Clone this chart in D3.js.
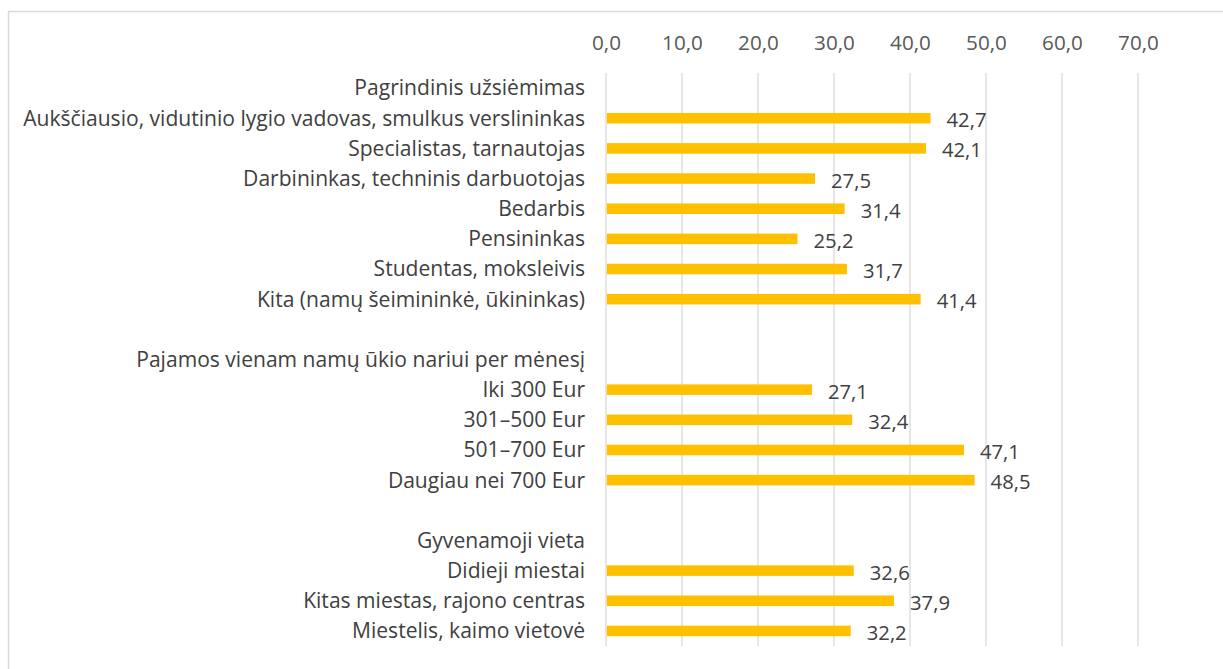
<!DOCTYPE html>
<html>
<head>
<meta charset="utf-8">
<script src="https://cdn.jsdelivr.net/npm/d3@7"></script>
<style>
  html, body { margin: 0; padding: 0; background: #ffffff; }
  svg { display: block; }
</style>
</head>
<body>
<svg id="chart" width="1223" height="669"></svg>
<script>
const categories = [
  "Pagrindinis užsiėmimas",
  "Aukščiausio, vidutinio lygio vadovas, smulkus verslininkas",
  "Specialistas, tarnautojas",
  "Darbininkas, techninis darbuotojas",
  "Bedarbis",
  "Pensininkas",
  "Studentas, moksleivis",
  "Kita (namų šeimininkė, ūkininkas)",
  "",
  "Pajamos vienam namų ūkio nariui per mėnesį",
  "Iki 300 Eur",
  "301–500 Eur",
  "501–700 Eur",
  "Daugiau nei 700 Eur",
  "",
  "Gyvenamoji vieta",
  "Didieji miestai",
  "Kitas miestas, rajono centras",
  "Miestelis, kaimo vietovė"
];
const values = [null, 42.7, 42.1, 27.5, 31.4, 25.2, 31.7, 41.4, null, null, 27.1, 32.4, 47.1, 48.5, null, null, 32.6, 37.9, 32.2];
const tickValues = [0, 10, 20, 30, 40, 50, 60, 70];

const FONT = "'Open Sans', sans-serif";
const svg = d3.select("#chart");

// measure helper: font size giving target width
function fitSize(str, target) {
  const t = svg.append("text").attr("font-family", FONT).attr("font-size", 20).text(str);
  const w = t.node().getComputedTextLength();
  t.remove();
  return 20 * target / w;
}
const labelSize = fitSize(categories[1], 562);
const valueSize = fitSize("48,5", 40);
const tickSize = fitSize("0,0", 29);

// outer chart border
svg.append("rect")
  .attr("x", 8.5).attr("y", 11.5)
  .attr("width", 1240).attr("height", 680)
  .attr("fill", "#ffffff")
  .attr("stroke", "#d9d9d9").attr("stroke-width", 1.5);

const x = d3.scaleLinear().domain([0, 70]).range([606, 1138]);
const y = d3.scaleBand().domain(d3.range(categories.length)).range([73, 646]).paddingInner(0.65).paddingOuter(0.325);

// gridlines
svg.append("g").selectAll("line").data(tickValues).join("line")
  .attr("x1", d => x(d)).attr("x2", d => x(d))
  .attr("y1", 73).attr("y2", 646)
  .attr("stroke", "#d9d9d9").attr("stroke-width", 1.3);

// top axis labels
const axis = d3.axisTop(x).tickValues(tickValues).tickSize(0)
  .tickFormat(d => d3.format(".1f")(d).replace(".", ","));
const gAxis = svg.append("g").attr("transform", "translate(0,43)").call(axis);
gAxis.select(".domain").remove();
gAxis.selectAll("text")
  .attr("font-family", FONT).attr("font-size", tickSize)
  .attr("fill", "#595959").attr("y", 0).attr("dy", "0.35em");

// bars
svg.append("g").selectAll("rect").data(values.map((v, i) => ({v, i})).filter(d => d.v !== null)).join("rect")
  .attr("x", x(0) + 0.8)
  .attr("y", d => y(d.i))
  .attr("width", d => x(d.v) - x(0) - 0.8)
  .attr("height", y.bandwidth())
  .attr("fill", "#FFC000");

// category labels
svg.append("g").selectAll("text").data(categories.map((c, i) => ({c, i}))).join("text")
  .attr("x", 585)
  .attr("y", d => y(d.i) + y.bandwidth() / 2)
  .attr("dy", "0.35em")
  .attr("text-anchor", "end")
  .attr("font-family", FONT).attr("font-size", labelSize)
  .attr("fill", "#404040")
  .text(d => d.c);

// value labels
svg.append("g").selectAll("text").data(values.map((v, i) => ({v, i})).filter(d => d.v !== null)).join("text")
  .attr("x", d => x(d.v) + 16)
  .attr("y", d => y(d.i) + y.bandwidth() / 2 + 2)
  .attr("dy", "0.35em")
  .attr("font-family", FONT).attr("font-size", valueSize)
  .attr("fill", "#404040")
  .text(d => d3.format(".1f")(d.v).replace(".", ","));
</script>
</body>
</html>
